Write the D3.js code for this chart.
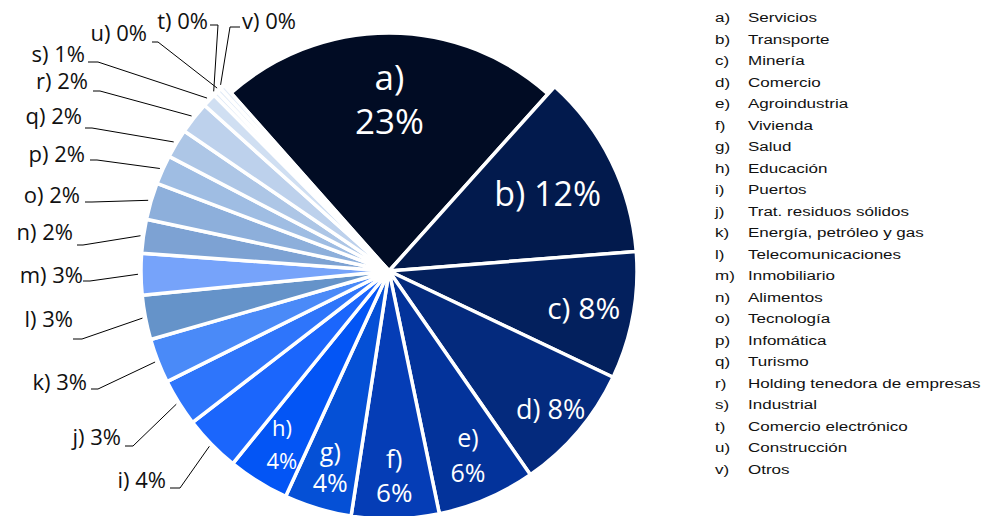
<!DOCTYPE html>
<html>
<head>
<meta charset="utf-8">
<script src="https://cdn.jsdelivr.net/npm/d3@7"></script>
<style>
  body { margin: 0; background: #fff; }
  svg { display: block; }
</style>
</head>
<body>
<div id="chart"></div>
<script>
const letters = ["a", "b", "c", "d", "e", "f", "g", "h", "i", "j", "k",
  "l", "m", "n", "o", "p", "q", "r", "s", "t", "u", "v"];

const sectors = ["Servicios", "Transporte", "Minería", "Comercio", "Agroindustria",
  "Vivienda", "Salud", "Educación", "Puertos", "Trat. residuos sólidos",
  "Energía, petróleo y gas", "Telecomunicaciones", "Inmobiliario", "Alimentos",
  "Tecnología", "Infomática", "Turismo", "Holding tenedora de empresas",
  "Industrial", "Comercio electrónico", "Construcción", "Otros"];

// share of projects, %
const shares = [23.2, 12.1, 8.3, 8.3, 6.4, 5.7, 4.4, 4.0, 3.7, 3.1, 2.9,
  2.9, 2.7, 2.2, 2.4, 1.9, 1.9, 2.1, 0.9, 0.3, 0.3, 0.3];

const colors = ["#010c24", "#021a4d", "#03205d", "#042a7d", "#03339b",
  "#053db6", "#0550d6", "#0355f5", "#1b66fc", "#2e75fb", "#4a8af8",
  "#6593c9", "#76a3fa", "#7da2d3", "#8dafdb", "#9fbde3", "#adc6e6",
  "#bdd1ec", "#d0dff2", "#e2ebf7", "#e2ebf7", "#e2ebf7"];

const width = 984, height = 516;
const cx = 389, cy = 271, radius = 248;

const data = sectors.map((name, i) => ({
  letter: letters[i], name, value: shares[i], color: colors[i],
  pct: Math.round(shares[i]) + "%"
}));

// label placement (inside: radius + font size + line gap; outside: elbow + text spot)
const inside = {
  a: { r: 173, size: 35, gap: 44 },
  b: { r: 177, size: 34, gap: 0 },
  c: { r: 198, size: 30, gap: 0 },
  d: { r: 212, size: 27, gap: 0 },
  e: { r: 200, size: 25, gap: 35 },
  f: { r: 204, size: 26, gap: 34 },
  g: { r: 204, size: 25, gap: 31 },
  h: { r: 203, size: 22, gap: 33 }
};
const outside = {
  i: { elbow: [180, 488], end: [170, 488], text: [166, 488] },
  j: { elbow: [133, 446], end: [125, 446], text: [121, 445] },
  k: { elbow: [98, 389], end: [91, 389], text: [87, 390] },
  l: { elbow: [82, 339], end: [73, 339], text: [73, 327] },
  m: { elbow: [90, 281], end: [83, 281], text: [83, 283] },
  n: { elbow: [83, 245], end: [77, 245], text: [73, 240] },
  o: { elbow: [92, 202], end: [85, 202], text: [80, 203] },
  p: { elbow: [97, 160], end: [90, 160], text: [85, 162] },
  q: { elbow: [92, 128], end: [85, 128], text: [82, 124] },
  r: { elbow: [100, 91], end: [93, 91], text: [88, 89] },
  s: { elbow: [98, 62], end: [88, 62], text: [85, 62] },
  t: { elbow: [218, 25], end: [210, 25], text: [208, 29] },
  u: { elbow: [158, 42], end: [152, 42], text: [147, 41] },
  v: { elbow: [230, 27], end: [240, 27], text: [242, 29], left: true }
};

const svg = d3.select("#chart").append("svg")
  .attr("width", width)
  .attr("height", height);

const start = -41.6 * Math.PI / 180;
const pie = d3.pie().sort(null).value(d => d.value)
  .startAngle(start).endAngle(start + 2 * Math.PI);
const arcs = pie(data);

const arc = d3.arc()
  .innerRadius(0)
  .outerRadius(d => d.index === 0 ? 238 : radius);

const g = svg.append("g").attr("transform", `translate(${cx},${cy})`);

g.selectAll("path.slice")
  .data(arcs)
  .enter()
  .append("path")
  .attr("class", "slice")
  .attr("d", arc)
  .attr("fill", d => d.data.color)
  .attr("stroke", "#fff")
  .attr("stroke-width", 3.5)
  .attr("stroke-linejoin", "round");

const mid = d => (d.startAngle + d.endAngle) / 2;

// inside labels
arcs.filter(d => inside[d.data.letter]).forEach(d => {
  const cfg = inside[d.data.letter];
  const a = mid(d);
  const x = Math.sin(a) * cfg.r, y = -Math.cos(a) * cfg.r;
  const lines = cfg.gap ? [d.data.letter + ")", d.data.pct] : [d.data.letter + ") " + d.data.pct];
  const t = g.append("text")
    .attr("text-anchor", "middle")
    .attr("dominant-baseline", "central")
    .attr("fill", "#fff")
    .style("font-family", "'Open Sans', sans-serif")
    .style("font-size", cfg.size + "px");
  lines.forEach((ln, k) => {
    t.append("tspan")
      .attr("x", x)
      .attr("y", y + (lines.length === 2 ? (k === 0 ? -cfg.gap / 2 : cfg.gap / 2) : 0))
      .text(ln);
  });
});

// outside labels with leader lines
arcs.filter(d => outside[d.data.letter]).forEach(d => {
  const cfg = outside[d.data.letter];
  const a = mid(d);
  const sx = cx + Math.sin(a) * (radius + 3), sy = cy - Math.cos(a) * (radius + 3);
  svg.append("polyline")
    .attr("points", [[sx, sy], cfg.elbow, cfg.end].map(p => p.join(",")).join(" "))
    .attr("fill", "none")
    .attr("stroke", "#000")
    .attr("stroke-width", 1);
  svg.append("text")
    .attr("x", cfg.text[0])
    .attr("y", cfg.text[1])
    .attr("text-anchor", cfg.left ? "start" : "end")
    .attr("fill", "#111")
    .style("font-family", "'Open Sans', sans-serif")
    .style("font-size", "22px")
    .text(d.data.letter + ") " + d.data.pct);
});

// legend
const legendY = d3.scaleBand()
  .domain(letters)
  .range([6, 6 + 21.5 * letters.length]);

const legend = svg.append("g")
  .selectAll("g")
  .data(data)
  .enter()
  .append("g")
  .attr("transform", d => `translate(715,${legendY(d.letter) + 16}) scale(1.26,1)`)
  .style("font-family", "'Liberation Sans', Arial, sans-serif")
  .style("font-size", "13.5px")
  .attr("fill", "#111");

legend.append("text").attr("x", 0).text(d => d.letter + ")");
legend.append("text").attr("x", 26.2).text(d => d.name);
</script>
</body>
</html>
